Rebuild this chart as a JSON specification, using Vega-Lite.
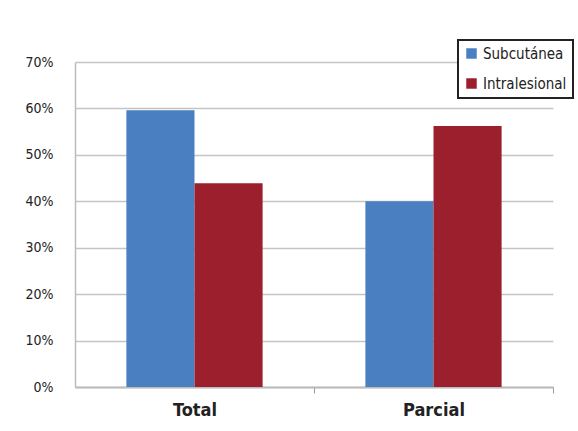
{
  "$schema": "https://vega.github.io/schema/vega-lite/v6.json",
  "width": 478,
  "height": 325,
  "autosize": {"type": "none"},
  "padding": {"left": 75, "top": 62, "right": 25, "bottom": 44},
  "background": "white",
  "data": {"values": [
    {"cat": "Total", "serie": "Subcutánea", "v": 0.596},
    {"cat": "Total", "serie": "Intralesional", "v": 0.439},
    {"cat": "Parcial", "serie": "Subcutánea", "v": 0.400},
    {"cat": "Parcial", "serie": "Intralesional", "v": 0.562}
  ]},
  "mark": {"type": "bar"},
  "encoding": {
    "x": {"field": "cat", "type": "nominal", "sort": ["Total", "Parcial"],
      "scale": {"paddingInner": 0.43, "paddingOuter": 0.215},
      "axis": {"title": null, "labelAngle": 0, "labelFont": "DejaVu Sans Condensed, Roboto, sans-serif", "labelFontWeight": "bold", "labelFontSize": 18, "labelColor": "#222", "labelPadding": 8, "tickOffset": 119.5, "labelOffset": -119.5, "tickColor": "#999", "tickSize": 6, "tickWidth": 1, "domainColor": "#bbb", "domainWidth": 2}},
    "xOffset": {"field": "serie", "type": "nominal", "sort": ["Subcutánea", "Intralesional"]},
    "y": {"field": "v", "type": "quantitative",
      "scale": {"domain": [0, 0.7], "nice": false},
      "axis": {"title": null, "format": ".0%", "values": [0, 0.1, 0.2, 0.3, 0.4, 0.5, 0.6, 0.7], "labelFont": "DejaVu Sans Condensed, Roboto, sans-serif", "labelFontSize": 14, "labelColor": "#222", "labelPadding": 22, "ticks": false, "gridColor": "#c4c4c4", "gridWidth": 1.5, "domainColor": "#bbb", "domainWidth": 1.5}},
    "color": {"field": "serie", "type": "nominal", "sort": ["Subcutánea", "Intralesional"],
      "scale": {"domain": ["Subcutánea", "Intralesional"], "range": ["#4a7fc1", "#9c1f2e"]},
      "legend": {"title": null, "orient": "none", "legendX": 383, "legendY": -22, "symbolType": "square", "symbolSize": 110, "labelFont": "DejaVu Sans Condensed, Roboto, sans-serif", "labelFontSize": 15, "labelColor": "#222", "rowPadding": 14, "padding": 6, "strokeColor": "#222", "fillColor": "white", "labelOffset": 4,
        "encode": {"legend": {"update": {"strokeWidth": {"value": 2}}}, "symbols": {"update": {"strokeWidth": {"value": 0}}}}}}
  },
  "config": {"view": {"stroke": null}}
}
